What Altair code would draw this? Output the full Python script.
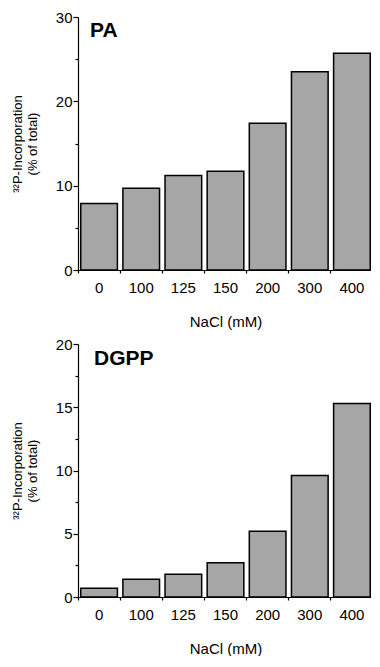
import altair as alt
import pandas as pd

nacl = ["0", "100", "125", "150", "200", "300", "400"]
pa_values = [7.9, 9.7, 11.2, 11.7, 17.4, 23.5, 25.7]
dgpp_values = [0.7, 1.4, 1.8, 2.7, 5.2, 9.6, 15.3]

pa_ticks = [0, 5, 10, 15, 20, 25, 30]
dgpp_ticks = [0, 2.5, 5, 7.5, 10, 12.5, 15, 17.5, 20]

FONT = "Liberation Sans"
W, H = 295, 253


def panel(values, label, ticks, ymax, major, lx, ly):
    df = pd.DataFrame({"nacl": nacl, "value": values})
    bars = alt.Chart(df).mark_bar(
        fill="#a6a6a6", stroke="black", strokeWidth=1.5, width={"band": 0.87}
    ).encode(
        x=alt.X(
            "nacl:N",
            sort=nacl,
            scale=alt.Scale(paddingInner=0, paddingOuter=0),
            axis=alt.Axis(
                title="NaCl (mM)",
                labelAngle=0,
                bandPosition=0,
                tickSize=3,
                labelPadding=7,
                titlePadding=19,
            ),
        ),
        y=alt.Y(
            "value:Q",
            scale=alt.Scale(domain=[0, ymax], nice=False),
            axis=alt.Axis(
                title=["³²P-Incorporation", "(% of total)"],
                values=ticks,
                labelExpr=f"datum.value % {major} === 0 ? datum.label : ''",
                tickSize={"condition": {"test": f"datum.value % {major} === 0", "value": 5}, "value": 3},
                labelPadding=1,
                titlePadding=16,
                grid=False,
            ),
        ),
    )
    txt = alt.Chart(pd.DataFrame({"t": [label]})).mark_text(
        align="left", baseline="top", fontWeight="bold", fontSize=21, font=FONT, color="black"
    ).encode(text="t:N", x=alt.value(lx), y=alt.value(ly))
    return alt.layer(bars, txt).properties(width=W, height=H)


chart = alt.vconcat(
    panel(pa_values, "PA", pa_ticks, 30, 10, 12, 3),
    panel(dgpp_values, "DGPP", dgpp_ticks, 20, 5, 16, 4),
    spacing=8,
).properties(
    padding={"left": 3, "top": 2, "right": -2, "bottom": 0},
).configure_view(stroke=None).configure_axis(
    domainColor="black",
    domainWidth=1.2,
    tickColor="black",
    tickWidth=1.2,
    labelColor="black",
    titleColor="black",
    labelFont=FONT,
    titleFont=FONT,
    labelFontSize=15,
    titleFontSize=15,
    titleFontWeight="normal",
).configure_axisY(
    titleFontSize=13,
    titleLineHeight=15,
)

chart.save("out.html", embed_options={"renderer": "svg", "actions": False})
